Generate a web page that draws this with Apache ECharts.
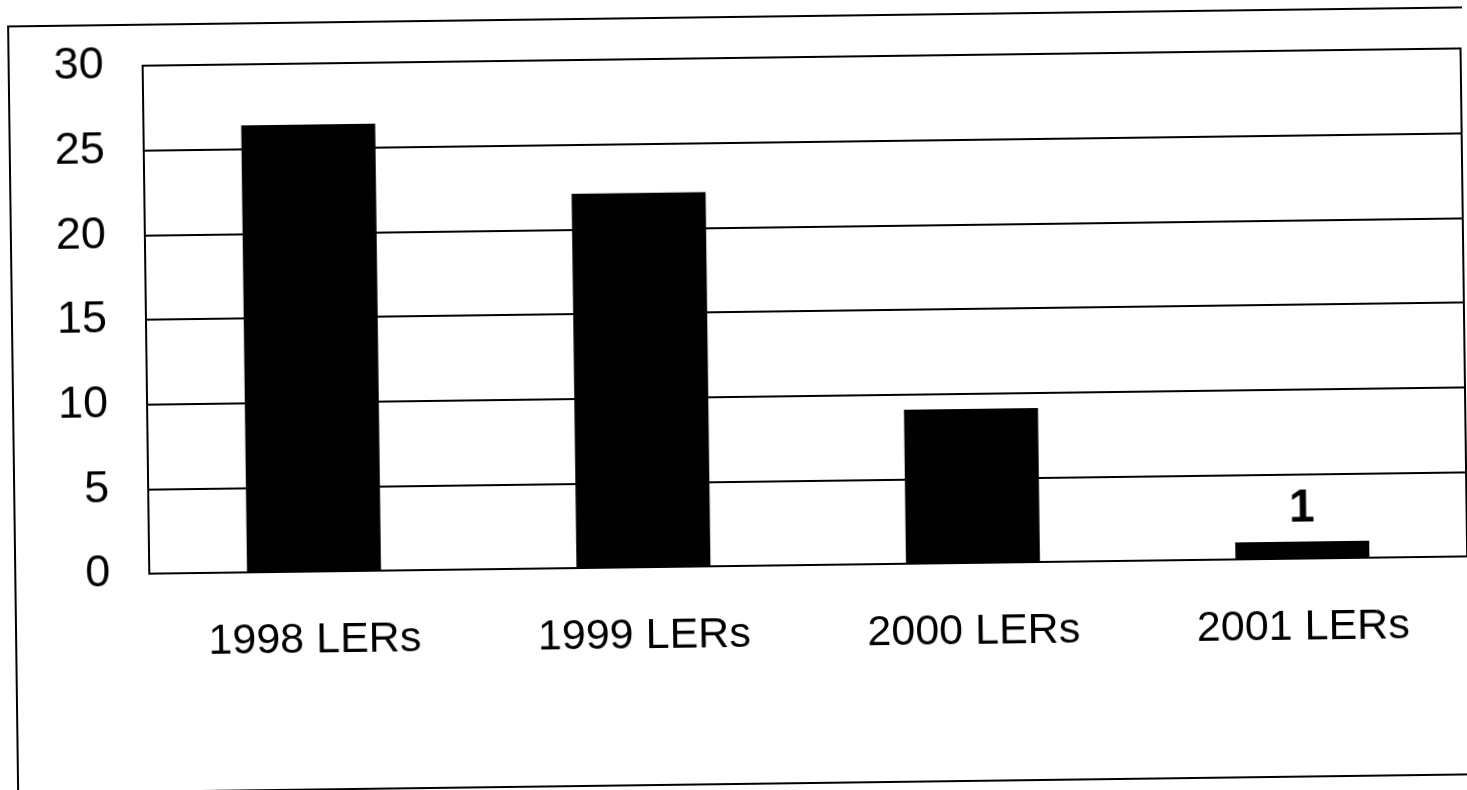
<!DOCTYPE html>
<html>
<head>
<meta charset="utf-8">
<script src="https://cdn.jsdelivr.net/npm/echarts@6/dist/echarts.min.js"></script>
<style>
  html, body { margin: 0; padding: 0; background: #fff; overflow: hidden; }
  #chart { width: 1467px; height: 790px; transform: rotate(-0.75deg); transform-origin: 733px 395px; }
</style>
</head>
<body>
<div id="chart"></div>
<script>
const categories = ['1998 LERs', '1999 LERs', '2000 LERs', '2001 LERs'];
const values = [26.4, 22.1, 9.1, 1];
const labelShown = [false, false, false, true];
const yTicks = { min: 0, max: 30, interval: 5 };

const chart = echarts.init(document.getElementById('chart'), null, { renderer: 'canvas' });
chart.setOption({
  backgroundColor: '#ffffff',
  animation: false,
  textStyle: { fontFamily: 'Liberation Sans, Arial, sans-serif' },
  graphic: [{
    type: 'rect',
    shape: { x: 13, y: 17, width: 1490, height: 767 },
    style: { fill: 'none', stroke: '#000', lineWidth: 2 },
    silent: true, z: 0
  }],
  grid: {
    left: 147, right: 2, top: 58, bottom: 224,
    show: true, borderColor: '#000', borderWidth: 2, backgroundColor: 'transparent'
  },
  xAxis: {
    type: 'category',
    data: categories,
    axisLine: { show: true, lineStyle: { color: '#000', width: 2 } },
    axisTick: { show: false },
    axisLabel: { color: '#000', fontSize: 43, margin: 48, fontFamily: 'Liberation Sans, Arial, sans-serif' }
  },
  yAxis: {
    type: 'value',
    min: yTicks.min, max: yTicks.max, interval: yTicks.interval,
    axisLine: { show: true, lineStyle: { color: '#000', width: 2 } },
    axisTick: { show: false },
    splitLine: { show: true, lineStyle: { color: '#000', width: 2 } },
    axisLabel: { color: '#000', fontSize: 45, margin: 39, fontFamily: 'Liberation Sans, Arial, sans-serif' }
  },
  series: [{
    type: 'bar',
    barWidth: 134,
    itemStyle: { color: '#000' },
    data: values.map((v, i) => ({
      value: v,
      label: {
        show: labelShown[i], position: 'top', distance: 10,
        color: '#000', fontSize: 46, fontWeight: 'bold',
        fontFamily: 'Liberation Sans, Arial, sans-serif'
      }
    }))
  }]
});
</script>
</body>
</html>
